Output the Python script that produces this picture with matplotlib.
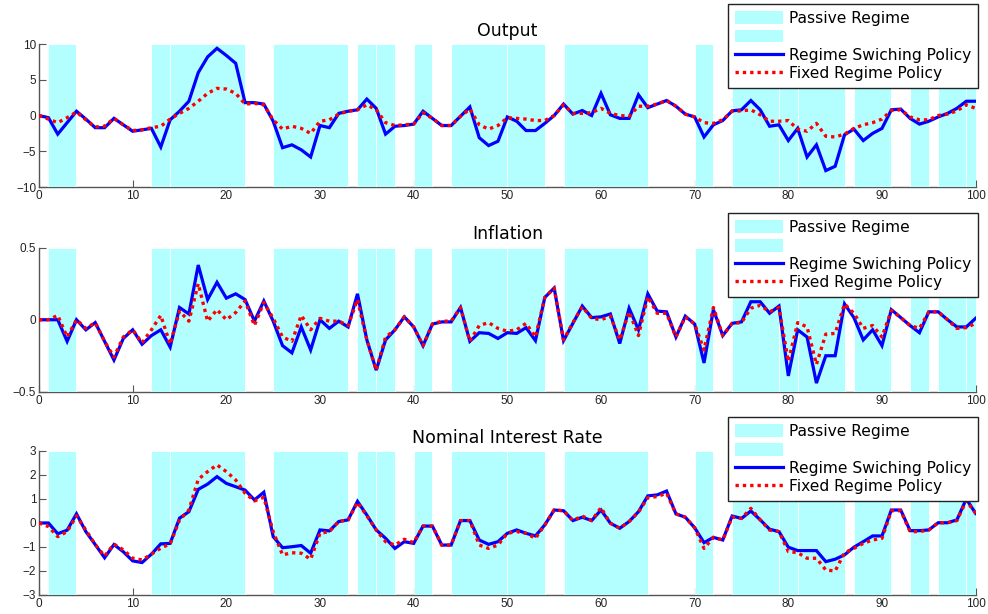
import matplotlib
matplotlib.use("Agg")
import matplotlib.pyplot as plt
from matplotlib.patches import Patch
from matplotlib.lines import Line2D
import numpy as np

t = np.arange(0, 101)

# Passive-regime periods (start, end)
passive = [(1, 4), (12, 14), (14, 22), (25, 33), (34, 36), (36, 38), (40, 42),
           (44, 50), (50, 54), (56, 65), (70, 72), (74, 79), (79, 81), (81, 86),
           (87, 91), (93, 95), (96, 99), (99, 100)]

output_rs = [0, -0.3, -2.6, -1.0, 0.6, -0.5, -1.7, -1.7, -0.4, -1.3,
             -2.2, -2.0, -1.8, -4.4, -0.6, 0.6, 2.0, 6.0, 8.2, 9.4,
             8.4, 7.3, 1.8, 1.8, 1.6, -0.8, -4.5, -4.1, -4.8, -5.8,
             -1.4, -1.7, 0.3, 0.6, 0.8, 2.3, 1.0, -2.6, -1.5, -1.4,
             -1.2, 0.6, -0.4, -1.4, -1.4, -0.1, 1.2, -3.1, -4.2, -3.6,
             -0.2, -0.8, -2.1, -2.1, -1.1, 0.0, 1.6, 0.2, 0.7, 0.0,
             3.1, 0.1, -0.4, -0.4, 2.9, 1.1, 1.6, 2.1, 1.3, 0.2,
             -0.2, -3.0, -1.3, -0.7, 0.65, 0.8, 2.1, 0.8, -1.5, -1.3,
             -3.5, -1.8, -5.8, -4.1, -7.7, -7.1, -2.7, -1.9, -3.5, -2.5,
             -1.8, 0.8, 0.9, -0.4, -1.2, -0.8, -0.2, 0.3, 1.0, 2.0, 2.0]

output_fx = [0, -0.5, -1.0, -0.3, 0.5, -0.6, -1.6, -1.5, -0.4, -1.3,
             -2.1, -2.0, -1.7, -1.5, -0.5, 0.3, 1.0, 2.0, 3.1, 3.8,
             3.7, 3.1, 1.6, 1.7, 1.5, -0.6, -1.9, -1.5, -1.8, -2.5,
             -0.8, -0.6, 0.2, 0.6, 0.8, 1.5, 0.8, -1.0, -1.4, -1.3,
             -1.2, 0.4, -0.4, -1.4, -1.4, -0.1, 0.9, -1.3, -1.9, -1.4,
             -0.3, -0.4, -0.5, -0.7, -0.7, 0.0, 1.5, 0.3, 0.3, 0.4,
             1.0, 0.3, 0.0, -0.1, 1.3, 1.3, 1.6, 2.1, 1.3, 0.2,
             -0.2, -1.0, -1.1, -0.6, 0.6, 0.65, 0.8, 0.1, -0.8, -0.8,
             -0.7, -1.9, -2.2, -1.1, -2.9, -3.0, -2.6, -1.8, -1.3, -1.0,
             -0.5, 0.7, 0.8, -0.2, -0.6, -0.6, 0.0, 0.2, 0.65, 1.5, 1.0]

infl_rs = [0, 0, 0, -0.15, 0, -0.07, -0.02, -0.15, -0.28, -0.13,
           -0.07, -0.17, -0.11, -0.07, -0.19, 0.085, 0.04, 0.38, 0.14, 0.26,
           0.15, 0.18, 0.14, -0.01, 0.13, -0.01, -0.18, -0.23, -0.05, -0.21,
           0.0, -0.06, -0.01, -0.05, 0.18, -0.14, -0.35, -0.14, -0.07, 0.02,
           -0.05, -0.18, -0.03, -0.015, -0.015, 0.085, -0.15, -0.09, -0.095, -0.13,
           -0.09, -0.095, -0.055, -0.145, 0.155, 0.22, -0.145, -0.025, 0.095, 0.015,
           0.02, 0.04, -0.165, 0.08, -0.07, 0.18, 0.06, 0.055, -0.12, 0.025,
           -0.03, -0.30, 0.07, -0.11, -0.025, -0.015, 0.125, 0.125, 0.045, 0.095,
           -0.39, -0.07, -0.12, -0.44, -0.25, -0.25, 0.11, 0.015, -0.14, -0.07,
           -0.18, 0.07, 0.015, -0.04, -0.09, 0.055, 0.055, 0.0, -0.05, -0.05, 0.01]

infl_fx = [0, 0, 0.03, -0.12, 0, -0.06, -0.02, -0.15, -0.26, -0.12,
           -0.07, -0.16, -0.07, 0.03, -0.17, 0.06, -0.01, 0.25, -0.01, 0.07,
           0.0, 0.05, 0.13, -0.04, 0.12, 0.01, -0.12, -0.15, 0.03, -0.07,
           0.01, -0.01, -0.01, -0.04, 0.14, -0.14, -0.35, -0.12, -0.07, 0.02,
           -0.05, -0.18, -0.03, -0.01, -0.01, 0.085, -0.15, -0.04, -0.02, -0.06,
           -0.08, -0.07, -0.025, -0.12, 0.155, 0.22, -0.14, -0.02, 0.09, 0.01,
           0.0, 0.025, -0.14, 0.055, -0.11, 0.16, 0.045, 0.045, -0.12, 0.02,
           -0.03, -0.21, 0.085, -0.11, -0.025, -0.02, 0.08, 0.10, 0.055, 0.085,
           -0.29, -0.02, -0.05, -0.31, -0.10, -0.095, 0.11, 0.045, -0.06, -0.04,
           -0.12, 0.065, 0.015, -0.04, -0.06, 0.055, 0.055, 0.0, -0.06, -0.055, -0.025]

rate_rs = [0, 0, -0.45, -0.3, 0.38, -0.36, -0.9, -1.45, -0.9, -1.2,
           -1.58, -1.65, -1.3, -0.87, -0.85, 0.2, 0.47, 1.4, 1.62, 1.93,
           1.65, 1.51, 1.37, 0.96, 1.28, -0.57, -1.03, -0.99, -0.94, -1.26,
           -0.29, -0.33, 0.06, 0.13, 0.9, 0.33, -0.29, -0.64, -1.06, -0.78,
           -0.85, -0.13, -0.13, -0.92, -0.92, 0.1, 0.1, -0.71, -0.89, -0.78,
           -0.43, -0.29, -0.43, -0.54, -0.08, 0.54, 0.51, 0.1, 0.24, 0.1,
           0.54, -0.01, -0.22, 0.06, 0.47, 1.13, 1.17, 1.33, 0.38, 0.24,
           -0.2, -0.82, -0.6, -0.71, 0.29, 0.19, 0.5, 0.13, -0.26, -0.36,
           -1.01, -1.15, -1.15, -1.15, -1.61, -1.51, -1.33, -1.01, -0.78, -0.54,
           -0.54, 0.54, 0.54, -0.32, -0.32, -0.29, 0.01, 0.01, 0.13, 1.0, 0.4]

rate_fx = [0, -0.15, -0.57, -0.36, 0.3, -0.3, -0.9, -1.38, -0.88, -1.12,
           -1.47, -1.54, -1.3, -1.05, -0.87, 0.12, 0.54, 1.82, 2.14, 2.42,
           2.14, 1.79, 1.24, 0.92, 1.07, -0.36, -1.33, -1.24, -1.26, -1.51,
           -0.43, -0.36, 0.06, 0.13, 0.86, 0.3, -0.29, -0.78, -0.92, -0.68,
           -0.82, -0.13, -0.13, -0.92, -0.92, 0.1, 0.1, -0.92, -1.06, -0.92,
           -0.43, -0.36, -0.43, -0.64, -0.08, 0.54, 0.51, 0.1, 0.29, 0.1,
           0.64, -0.01, -0.22, 0.06, 0.45, 1.06, 1.1, 1.24, 0.38, 0.24,
           -0.2, -1.06, -0.6, -0.71, 0.25, 0.19, 0.61, 0.13, -0.3, -0.36,
           -1.19, -1.24, -1.47, -1.47, -1.96, -2.0, -1.24, -1.06, -0.85, -0.71,
           -0.64, 0.51, 0.51, -0.36, -0.36, -0.29, 0.01, 0.01, 0.1, 0.93, 0.4]

titles = ["Output", "Inflation", "Nominal Interest Rate"]
ylims = [(-10, 10), (-0.5, 0.5), (-3, 3)]
yticks = [[-10, -5, 0, 5, 10], [-0.5, 0, 0.5], [-3, -2, -1, 0, 1, 2, 3]]
series = [(output_rs, output_fx), (infl_rs, infl_fx), (rate_rs, rate_fx)]
legend_labels = ["Passive Regime", "", "Regime Swiching Policy", "Fixed Regime Policy"]

CYAN = "#b3ffff"
TXT_FONT = ["DejaVu Sans"]
TICK_FONT = ["Liberation Sans", "DejaVu Sans"]

fig = plt.figure(figsize=(9.88, 6.14), dpi=100)
positions = [(0.0395, 0.6954, 0.948, 0.2329),
             (0.0395, 0.3620, 0.948, 0.2345),
             (0.0395, 0.0310, 0.948, 0.2345)]
leg_tops = [1.28, 1.241, 1.236]

for i, ax_pos in enumerate(positions):
    ax = fig.add_axes(ax_pos)
    for (a, b) in passive:
        ax.axvspan(a, b, color=CYAN, lw=0.6, ec="white", zorder=3)
    rs, fx = series[i]
    ax.plot(t, rs, color="#0000ff", lw=2.3, zorder=4, solid_joinstyle="miter")
    ax.plot(t, fx, color="#ff0000", lw=2.4, ls=(0, (1.0, 1.2)), zorder=5)
    ax.set_xlim(0, 100)
    ax.set_ylim(*ylims[i])
    ax.set_xticks(range(0, 101, 10))
    ax.set_yticks(yticks[i])
    ax.set_yticklabels([("%g" % v).replace("-", "\u2212") for v in yticks[i]])
    for s in ["top", "right"]:
        ax.spines[s].set_visible(False)
    for s in ["left", "bottom"]:
        ax.spines[s].set_color("#555555")
        ax.spines[s].set_linewidth(1.0)
    ax.tick_params(direction="in", length=5, width=0.8, color="#555555",
                   labelcolor="#222222", labelsize=8.5, pad=2)
    for lab in ax.get_xticklabels() + ax.get_yticklabels():
        lab.set_family(TICK_FONT)
    ax.set_title(titles[i], fontsize=12.5, family=TXT_FONT, pad=6)
    handles = [Patch(facecolor=CYAN, edgecolor="none"),
               Patch(facecolor=CYAN, edgecolor="none"),
               Line2D([], [], color="#0000ff", lw=2.3),
               Line2D([], [], color="#ff0000", lw=2.4, ls=(0, (1.0, 1.2)))]
    leg = ax.legend(handles, legend_labels, loc="upper right",
                    bbox_to_anchor=(1.003, leg_tops[i]),
                    prop={"family": TXT_FONT, "size": 11.2},
                    frameon=True, fancybox=False, framealpha=1,
                    edgecolor="#222222", handlelength=3.1, handleheight=0.9,
                    labelspacing=0.22, borderpad=0.45, handletextpad=0.4,
                    borderaxespad=0)
    leg.get_frame().set_linewidth(1.0)
    leg.set_zorder(10)

fig.savefig("out.png", dpi=100)
